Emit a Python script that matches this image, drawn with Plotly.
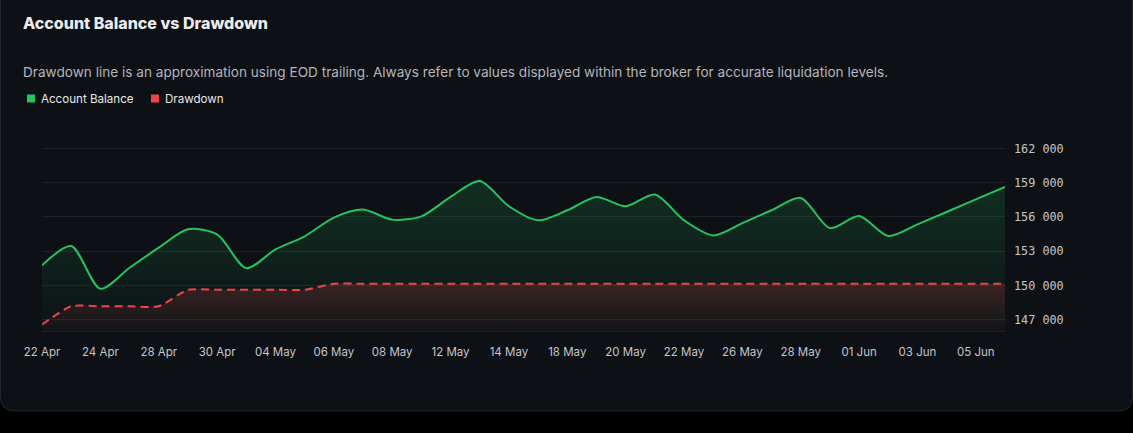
import plotly.graph_objects as go

W, H = 1133, 433
L, R, T, B = 42, 1005, 144.6, 331   # plot area in pixels

days = ["22 Apr", "23 Apr", "24 Apr", "25 Apr", "28 Apr", "29 Apr", "30 Apr",
        "01 May", "04 May", "05 May", "06 May", "07 May", "08 May", "11 May",
        "12 May", "13 May", "14 May", "15 May", "18 May", "19 May", "20 May",
        "21 May", "22 May", "25 May", "26 May", "27 May", "28 May", "29 May",
        "01 Jun", "02 Jun", "03 Jun", "04 Jun", "05 Jun", "06 Jun"]

balance = [151750, 153440, 149700, 151540, 153300, 154910, 154470, 151510,
           153150, 154300, 155940, 156640, 155760, 156050, 157750, 159150,
           156930, 155700, 156580, 157750, 156930, 157960, 155700, 154380,
           155460, 156580, 157660, 155020, 156080, 154320, 155350, 156430,
           157540, 158630]

drawdown = [146560, 148170, 148170, 148170, 148170, 149610, 149610, 149610,
            149610, 149610] + [150140] * 24

tick_days = days[::2]


def px(x):
    return (x - L) / (R - L)


def py(y):
    return (B - y) / (B - T)


fig = go.Figure()

fig.add_trace(go.Scatter(
    x=days, y=balance, name="Account Balance", mode="lines",
    line=dict(color="#22c55e", width=2, shape="spline", smoothing=0.8),
    fill="tozeroy",
    fillgradient=dict(type="vertical", start=146000, stop=159200,
                      colorscale=[[0, "rgba(34,197,94,0.02)"], [1, "rgba(34,197,94,0.17)"]]),
    showlegend=False))

fig.add_trace(go.Scatter(
    x=days, y=drawdown, name="Drawdown", mode="lines",
    line=dict(color="#ef4444", width=2, dash="8px,5px", shape="spline", smoothing=0.6),
    fill="tozeroy",
    fillgradient=dict(type="vertical", start=146000, stop=150140,
                      colorscale=[[0, "rgba(239,68,68,0.02)"], [1, "rgba(239,68,68,0.19)"]]),
    showlegend=False))

# card background
r = 14
x0, x1, yb, yt = 0.5, W - 0.5, 411, -20
card = (f"M {px(x0)},{py(yt)} L {px(x0)},{py(yb - r)} "
        f"Q {px(x0)},{py(yb)} {px(x0 + r)},{py(yb)} "
        f"L {px(x1 - r)},{py(yb)} Q {px(x1)},{py(yb)} {px(x1)},{py(yb - r)} "
        f"L {px(x1)},{py(yt)} Z")
shapes = [dict(type="path", path=card, xref="paper", yref="paper", layer="below",
               fillcolor="#0d1015", line=dict(color="#24272c", width=1))]

# legend squares
for lx, col in [(27, "#22c55e"), (151, "#ef4444")]:
    shapes.append(dict(type="rect", xref="paper", yref="paper",
                       x0=px(lx), x1=px(lx + 8), y0=py(102), y1=py(94),
                       fillcolor=col, line=dict(width=0), layer="above"))

annotations = [
    dict(text="Account Balance vs Drawdown", x=px(21), y=py(22),
         font=dict(family="Inter", size=16, weight=800, color="#ececec")),
    dict(text="Drawdown line is an approximation using EOD trailing. Always refer to values "
              "displayed within the broker for accurate liquidation levels.",
         x=px(21), y=py(71), font=dict(family="Inter", size=13.6, color="#b4b6ba")),
    dict(text="Account Balance", x=px(39), y=py(98),
         font=dict(family="Inter", size=11.6, color="#e6e6e6")),
    dict(text="Drawdown", x=px(163), y=py(98),
         font=dict(family="Inter", size=11.6, color="#e6e6e6")),
]
for a in annotations:
    a.update(xref="paper", yref="paper", xanchor="left", yanchor="middle", showarrow=False)

fig.update_layout(
    width=W, height=H,
    margin=dict(l=L, r=W - R, t=T, b=H - B),
    paper_bgcolor="#000000", plot_bgcolor="rgba(0,0,0,0)",
    separators=". ",
    shapes=shapes, annotations=annotations,
    showlegend=False,
    xaxis=dict(type="category", categoryorder="array", categoryarray=days,
               range=[0, len(days) - 1], tickvals=tick_days, ticktext=tick_days,
               showgrid=False, zeroline=False, showline=True, linecolor="#1d2025",
               ticks="", ticklabelstandoff=10,
               tickfont=dict(family="Inter", size=11.5, color="#c4c6ca")),
    yaxis=dict(side="right", range=[146000, 162300], tick0=147000, dtick=3000,
               tickformat=",d", showgrid=True, gridcolor="#1d2025", zeroline=False,
               ticks="", ticklabelstandoff=8,
               tickfont=dict(family="DejaVu Sans Mono", size=11.8, color="#c4c6ca")),
)

fig.write_html("out.html", config={"displayModeBar": False},
               post_script="document.body.style.margin='0';"
                           "document.body.style.background='#000';")
